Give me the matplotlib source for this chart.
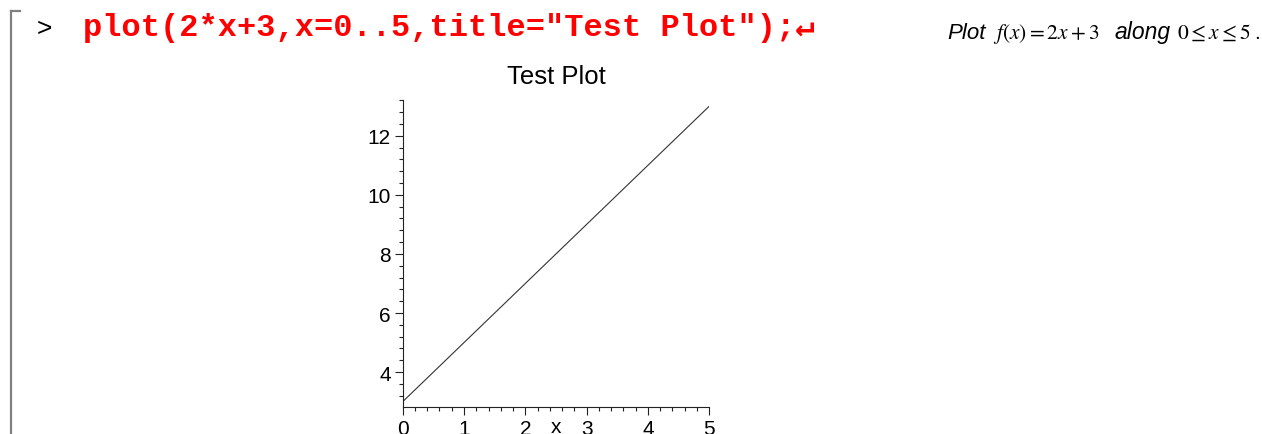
import matplotlib.pyplot as plt
from matplotlib.lines import Line2D
from matplotlib.ticker import MultipleLocator

plt.rcParams['font.family'] = ['Liberation Sans', 'DejaVu Sans']
plt.rcParams['mathtext.fontset'] = 'stix'

# Maple worksheet: plot(2*x+3, x=0..5, title="Test Plot")
command = 'plot(2*x+3,x=0..5,title="Test Plot");\u21b5'
comment_words = ['Plot', 'along', '.']
comment_math = [r'$f(x) = 2x+3$', r'$0 \leq x \leq 5$']
title = 'Test Plot'
x_values = [0, 5]
y_values = [3, 13]
x_ticks = [0, 1, 2, 3, 4, 5]
y_ticks = [4, 6, 8, 10, 12]

fig = plt.figure(figsize=(12.62, 4.35), dpi=100)

# worksheet bracket on the left
fig.add_artist(Line2D([0.0091, 0.0091], [0.0, 0.9724], color='#808080', lw=1.6))
fig.add_artist(Line2D([0.0091, 0.0162], [0.9724, 0.9724], color='#808080', lw=1.6))

# prompt and input line
fig.text(0.0290, 0.9333, '>', fontsize=19, color='black', va='center')
fig.text(0.0655, 0.9172, command, fontsize=23, color='red', fontweight='bold',
         family=['Liberation Mono', 'DejaVu Sans Mono'], va='baseline')

# comment on the right: italic words mixed with typeset math
base = 0.9103
fig.text(0.7505, base, comment_words[0], fontsize=16, fontstyle='italic', va='baseline')
fig.text(0.7865, base, comment_math[0], fontsize=15.5, va='baseline')
fig.text(0.8835, base, comment_words[1], fontsize=16.5, fontstyle='italic', va='baseline')
fig.text(0.9327, base, comment_math[1], fontsize=15.5, va='baseline')
fig.text(0.9940, base, comment_words[2], fontsize=15, va='baseline')

# the plot
ax = fig.add_axes([0.3191, 0.0621, 0.2429, 0.7064])
ax.plot(x_values, y_values, color='#333333', lw=0.8)
ax.set_xlim(0, 5)
ax.set_ylim(2.82, 13.22)
ax.set_xticks(x_ticks)
ax.set_yticks(y_ticks)
ax.xaxis.set_minor_locator(MultipleLocator(0.2))
ax.yaxis.set_minor_locator(MultipleLocator(0.4))
for side in ['top', 'right']:
    ax.spines[side].set_visible(False)
for side in ['left', 'bottom']:
    ax.spines[side].set_color('#222222')
    ax.spines[side].set_linewidth(0.8)
ax.tick_params(which='major', length=5.5, width=0.8, labelsize=15, pad=3, colors='#222222')
ax.tick_params(which='minor', length=3, width=0.8, colors='#222222')
ax.tick_params(labelcolor='black')
ax.set_xlabel('x', fontsize=15, va='top')
ax.xaxis.set_label_coords(0.5, -0.0335)
ax.set_title(title, fontsize=18.5, pad=12)

fig.savefig('out.png', dpi=100)
